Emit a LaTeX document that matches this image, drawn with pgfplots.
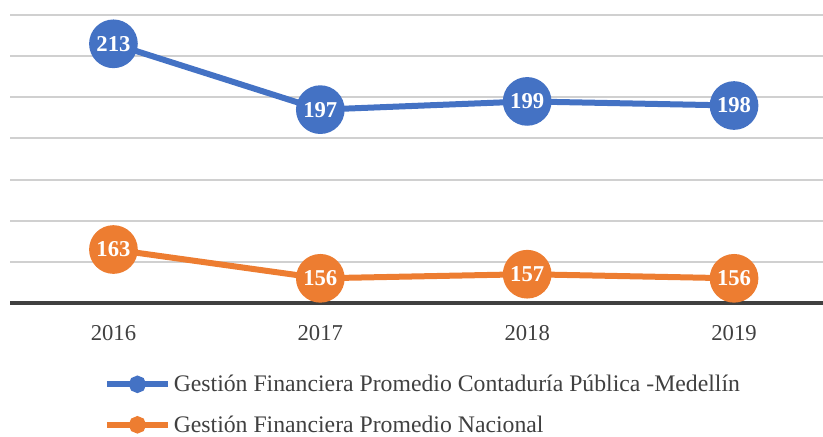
\documentclass[border=0pt]{standalone}
\usepackage{pgfplots}
\pgfplotsset{compat=1.18}
\usepackage{fontspec}
\setmainfont{Liberation Serif}
\definecolor{blueC}{HTML}{4472C4}
\definecolor{orangeC}{HTML}{ED7D31}
\definecolor{gridC}{HTML}{D0D0D0}
\definecolor{axisC}{HTML}{404040}
\definecolor{txtC}{HTML}{404040}
\begin{document}
\begin{tikzpicture}
\path[use as bounding box] (0,0) rectangle (617.25pt,327pt);
\begin{axis}[
  at={(7.5pt,99.75pt)}, anchor=south west,
  width=609.75pt, height=216pt, scale only axis,
  xmin=-0.5, xmax=3.43, ymin=150, ymax=220,
  xtick={0,1,2,3}, xticklabels={2016,2017,2018,2019},
  ytick={150,160,...,220}, yticklabels={},
  ymajorgrids, major grid style={gridC, line width=1.5pt},
  axis x line*=bottom, axis y line*=left,
  x axis line style={axisC, line width=3pt, -},
  y axis line style={draw=none},
  major tick length=0pt,
  clip=false,
  /pgf/number format/assume math mode=true,
  tick label style={font=\fontsize{17}{20}\selectfont, text=txtC},
  xticklabel style={yshift=-13.5pt},
  nodes near coords,
  every node near coord/.append style={anchor=center, text=white, font=\fontsize{17}{20}\selectfont\bfseries},
  legend style={draw=none, fill=none, at={(0.115,-0.24)}, anchor=north west,
    font=\fontsize{17.8}{20}\selectfont, text=txtC, row sep=12.5pt, inner sep=0pt,
    legend cell align=left},
  legend columns=1,
]
\addplot[blueC, line width=4.5pt, mark=*, mark size=16pt,
  legend image code/.code={\draw[blueC, line width=4.5pt] (0pt,0pt) -- (46pt,0pt); \fill[blueC] (23pt,0pt) circle (4.2pt);}]
  coordinates {(0,213) (1,197) (2,199) (3,198)};
\addlegendentry{Gestión Financiera Promedio Contaduría Pública -Medellín}
\addplot[orangeC, line width=4.5pt, mark=*, mark size=16pt,
  legend image code/.code={\draw[orangeC, line width=4.5pt] (0pt,0pt) -- (46pt,0pt); \fill[orangeC] (23pt,0pt) circle (4.2pt);}]
  coordinates {(0,163) (1,156) (2,157) (3,156)};
\addlegendentry{Gestión Financiera Promedio Nacional}
\end{axis}
\end{tikzpicture}
\end{document}
